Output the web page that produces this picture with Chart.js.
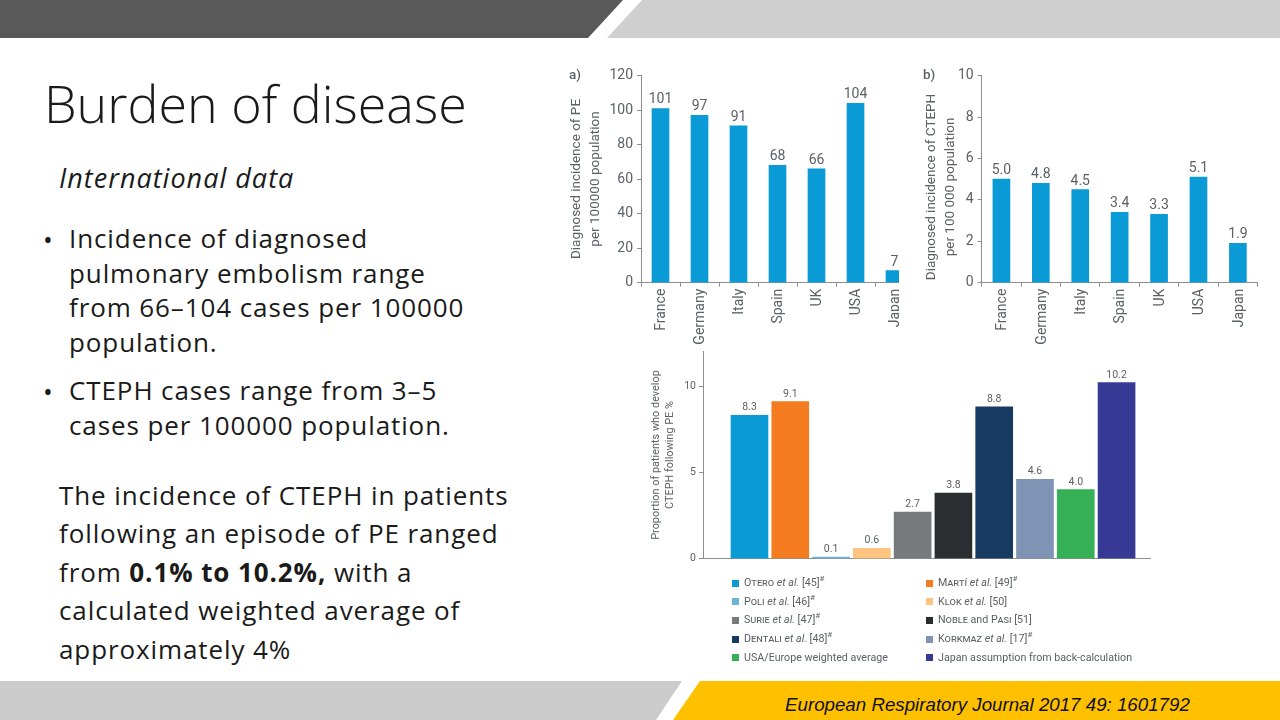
<!DOCTYPE html>
<html>
<head>
<meta charset="utf-8">
<title>Burden of disease</title>
<script src="https://cdn.jsdelivr.net/npm/chart.js@4/dist/chart.umd.min.js"></script>
<style>
html, body { margin: 0; padding: 0; background: #fff; }
#slide { position: relative; width: 1280px; height: 720px; overflow: hidden; font-family: 'Open Sans', sans-serif; color: #1a1a1a; }
.shape { position: absolute; }
.txt { position: absolute; white-space: nowrap; font-size: 26px; letter-spacing: 0.9px; }
canvas { position: absolute; }
.mask { position: absolute; background: #fff; }
.leg { position: absolute; white-space: nowrap; font: 10.7px Roboto, sans-serif; color: #5b6166; line-height: 14px; }
.leg b { position: absolute; left: -12.5px; top: 3.5px; width: 7px; height: 7px; }
.leg span { font-variant: small-caps; }
.leg sup { line-height: 0; font-size: 8px; }
</style>
</head>
<body>
<div id="slide">
  <div class="shape" style="left:0;top:0;width:1280px;height:38px;background:#cfcfcf;clip-path:polygon(642px 0,1280px 0,1280px 38px,607px 38px)"></div>
  <div class="shape" style="left:0;top:0;width:1280px;height:38px;background:#595959;clip-path:polygon(0 0,623px 0,588px 38px,0 38px)"></div>
  <div class="shape" style="left:0;top:681px;width:1280px;height:39px;background:#cccccc;clip-path:polygon(0 0,682px 0,656px 39px,0 39px)"></div>
  <div class="shape" style="left:0;top:681px;width:1280px;height:39px;background:#ffc000;clip-path:polygon(700px 0,1280px 0,1280px 39px,673px 39px)"></div>

  <div class="txt" style="left:44px;top:67px;font-size:52px;font-weight:300;letter-spacing:0">Burden of disease</div>
  <div class="txt" style="left:59px;top:159px;font-size:27px;font-style:italic;letter-spacing:1px">International data</div>
  <div class="txt" style="left:43px;top:221px">•</div>
  <div class="txt" style="left:69px;top:221px;line-height:34.7px">Incidence of diagnosed<br>pulmonary embolism range<br>from 66–104 cases per 100000<br>population.</div>
  <div class="txt" style="left:43px;top:373px">•</div>
  <div class="txt" style="left:69px;top:373px;line-height:34.7px">CTEPH cases range from 3–5<br>cases per 100000 population.</div>
  <div class="txt" style="left:59px;top:476px;line-height:38.4px">The incidence of CTEPH in patients<br>following an episode of PE ranged<br>from <strong>0.1% to 10.2%,</strong> with a<br>calculated weighted average of<br>approximately 4%</div>
  <div class="txt" style="left:785px;top:694px;font:italic 18.73px 'Liberation Sans',sans-serif;letter-spacing:0;color:#111">European Respiratory Journal 2017 49: 1601792</div>

  <canvas id="peChart" width="360" height="290" style="left:560px;top:60px"></canvas>
  <div class="mask" style="left:898.5px;top:60px;width:21px;height:280px"></div>
  <canvas id="ctephChart" width="360" height="290" style="left:910px;top:60px"></canvas>
  <canvas id="proportionChart" width="520" height="230" style="left:640px;top:340px"></canvas>
  <div id="legend"></div>
</div>

<script>
var countries = ['France', 'Germany', 'Italy', 'Spain', 'UK', 'USA', 'Japan'];
var peValues = [101, 97, 91, 68, 66, 104, 7];
var ctephValues = [5.0, 4.8, 4.5, 3.4, 3.3, 5.1, 1.9];

var studyPositions = [1, 2, 3, 4, 5, 6, 7, 8, 9, 10];
var studyValues = [8.3, 9.1, 0.1, 0.6, 2.7, 3.8, 8.8, 4.6, 4.0, 10.2];
var studyColors = ['#0a9ad6', '#f47b20', '#6fb1dd', '#fcc47e', '#767a7d', '#2b2e31', '#173a63', '#7f94b5', '#36b056', '#363a95'];
var studyNames = [
    '<span>Otero</span> <i>et al.</i> [45]<sup>#</sup>',
    '<span>Martí</span> <i>et al.</i> [49]<sup>#</sup>',
    '<span>Poli</span> <i>et al.</i> [46]<sup>#</sup>',
    '<span>Klok</span> <i>et al.</i> [50]',
    '<span>Surie</span> <i>et al.</i> [47]<sup>#</sup>',
    '<span>Noble</span> and <span>Pasi</span> [51]',
    '<span>Dentali</span> <i>et al.</i> [48]<sup>#</sup>',
    '<span>Korkmaz</span> <i>et al.</i> [17]<sup>#</sup>',
    'USA/Europe weighted average',
    'Japan assumption from back-calculation'
];

var textGrey = '#5b6166';
var axisGrey = '#8b8f92';

// prints the number above each bar
var barLabels = {
    id: 'barLabels',
    afterDatasetsDraw: function(chart, args, opts) {
        var ctx = chart.ctx;
        ctx.save();
        ctx.font = opts.size + 'px Roboto, sans-serif';
        ctx.fillStyle = textGrey;
        ctx.textAlign = 'center';
        ctx.textBaseline = 'alphabetic';
        chart.getDatasetMeta(0).data.forEach(function(bar, i) {
            var v = chart.data.datasets[0].data[i];
            if (typeof v === 'object') v = v.y;
            ctx.fillText(v.toFixed(opts.decimals), bar.x, bar.y - opts.gap);
        });
        ctx.restore();
    }
};

// rotated y axis title, the library one can only centre on the plot
var sideTitle = {
    id: 'sideTitle',
    afterDraw: function(chart, args, opts) {
        var ctx = chart.ctx;
        ctx.save();
        ctx.font = opts.size + 'px Roboto, sans-serif';
        ctx.fillStyle = textGrey;
        ctx.textAlign = 'center';
        opts.lines.forEach(function(line, i) {
            ctx.save();
            ctx.translate(opts.xs[i], opts.cy);
            ctx.rotate(-Math.PI / 2);
            ctx.fillText(line, 0, 0);
            ctx.restore();
        });
        ctx.restore();
    }
};

// same panel for a) and b)
function countryChart(id, values, yMax, yStep, decimals, yWidth, right, titleLines, titleXs, titleY, panel) {
    return new Chart(document.getElementById(id), {
        type: 'bar',
        data: {
            labels: countries,
            datasets: [{ data: values, backgroundColor: '#0a9ad6', barThickness: 17 }]
        },
        options: {
            responsive: false,
            animation: false,
            layout: { padding: { top: 15.7, right: right, bottom: 0, left: 0 } },
            plugins: {
                legend: { display: false },
                tooltip: { enabled: false },
                barLabels: { size: 14, decimals: decimals, gap: 5 },
                sideTitle: { size: 13.5, lines: titleLines, xs: titleXs, cy: titleY }
            },
            scales: {
                x: {
                    afterFit: function(s) { s.height = 67.3; },
                    border: { color: axisGrey },
                    grid: { drawOnChartArea: false, offset: true, color: axisGrey, tickLength: 4 },
                    ticks: { autoSkip: false, minRotation: 90, maxRotation: 90, padding: 2, labelOffset: 1.2, color: textGrey, font: { family: 'Roboto', size: 14 } }
                },
                y: {
                    min: 0,
                    max: yMax,
                    afterFit: function(s) { s.width = yWidth; },
                    border: { color: axisGrey },
                    grid: { drawOnChartArea: false, color: axisGrey, tickLength: 4 },
                    ticks: { stepSize: yStep, padding: 4, color: textGrey, font: { family: 'Roboto', size: 14 } }
                }
            }
        },
        plugins: [barLabels, sideTitle, panel]
    });
}

// a) / b) tag in the corner of the panel
function panelTag(text, x) {
    return {
        id: 'panelTag',
        afterDraw: function(chart) {
            var ctx = chart.ctx;
            ctx.save();
            ctx.font = '500 13.5px Roboto, sans-serif';
            ctx.fillStyle = textGrey;
            ctx.fillText(text, x, 19);
            ctx.restore();
        }
    };
}

countryChart('peChart', peValues, 120, 20, 0, 81, 6,
    ['Diagnosed incidence of PE', 'per 100000 population'], [20, 39], 119, panelTag('a)', 9));
countryChart('ctephChart', ctephValues, 10, 2, 1, 71.7, 12.4,
    ['Diagnosed incidence of CTEPH', 'per 100 000 population'], [24.5, 43.5], 127, panelTag('b)', 13));

new Chart(document.getElementById('proportionChart'), {
    type: 'bar',
    data: {
        datasets: [{
            data: studyPositions.map(function(p, i) { return { x: p, y: studyValues[i] }; }),
            backgroundColor: studyColors,
            barThickness: 37
        }]
    },
    options: {
        responsive: false,
        animation: false,
        layout: { padding: { top: 11.5, right: 10, bottom: 0, left: 0 } },
        plugins: {
            legend: { display: false },
            tooltip: { enabled: false },
            barLabels: { size: 10.5, decimals: 1, gap: 5 },
            sideTitle: { size: 10.9, lines: ['Proportion of patients who develop', 'CTEPH following PE %'], xs: [19, 33], cy: 115 }
        },
        scales: {
            x: {
                type: 'linear',
                offset: false,
                min: -0.14,
                max: 10.82,
                afterFit: function(s) { s.height = 11.3; },
                border: { color: axisGrey },
                grid: { display: false },
                ticks: { display: false }
            },
            y: {
                min: 0,
                max: 12,
                afterFit: function(s) { s.width = 63; },
                afterBuildTicks: function(s) {
                    s.ticks = s.ticks.filter(function(t) { return t.value % 5 === 0; });
                },
                border: { color: axisGrey },
                grid: { drawOnChartArea: false, color: axisGrey, tickLength: 4 },
                ticks: { stepSize: 5, padding: 3, color: textGrey, font: { family: 'Roboto', size: 10.5 } }
            }
        }
    },
    plugins: [barLabels, sideTitle]
});

// two column legend, names need small caps and italics so it is html
var legendBox = document.getElementById('legend');
studyNames.forEach(function(name, i) {
    var item = document.createElement('div');
    item.className = 'leg';
    item.style.left = (i % 2 === 0 ? 744 : 938) + 'px';
    item.style.top = (576 + Math.floor(i / 2) * 18.7) + 'px';
    item.innerHTML = '<b style="background:' + studyColors[i] + '"></b>' + name;
    legendBox.appendChild(item);
});
</script>
</body>
</html>
